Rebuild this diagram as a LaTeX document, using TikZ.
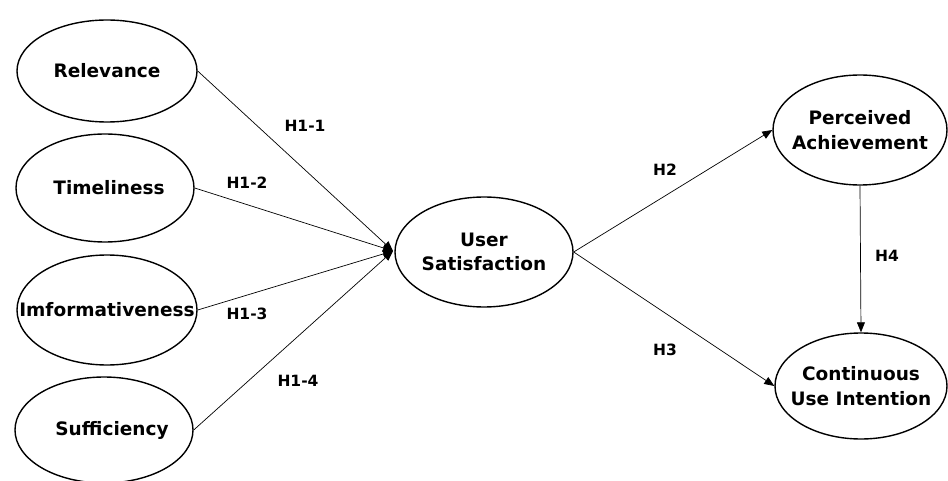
\documentclass[tikz,border=0pt]{standalone}
\usepackage{fontspec}
\setmainfont{DejaVu Sans}
\usetikzlibrary{shapes.geometric,arrows.meta}
\begin{document}
\begin{tikzpicture}[x=1pt,y=-1pt,
  var/.style={ellipse,draw,line width=1.4pt,minimum width=#1,inner sep=0pt,font=\fontsize{18.5}{24.5}\selectfont\bfseries,align=center},
  var/.default={180pt},
  conn/.style={line width=0.7pt,-{Triangle[length=10pt,width=8pt]}},
  lab/.style={font=\fontsize{15.5}{18}\selectfont\bfseries}]
\useasboundingbox (0,0) rectangle (948,481);
\node[var,minimum height=102pt] (rel) at (107,71) {\clap{Relevance}};
\node[var=178pt,minimum height=108pt] (tim) at (105,188) {\clap{\hspace{8pt}Timeliness}};
\node[var,minimum height=110pt] (imf) at (107,310) {\clap{Imformativeness}};
\node[var=178pt,minimum height=106pt] (suf) at (104,430) {\clap{\hspace{16pt}Sufficiency}};
\node[var=178pt,minimum height=110pt] (us) at (484,252) {\clap{User}\\\clap{Satisfaction}};
\node[var=174pt,minimum height=110pt] (pa) at (860,130) {\clap{Perceived}\\\clap{Achievement}};
\node[var=172pt,minimum height=106pt] (cui) at (861,386) {\clap{Continuous}\\\clap{Use Intention}};
\coordinate (tip) at (393,251);
\draw[conn] (rel.east) -- (tip);
\draw[conn] (tim.east) -- (tip);
\draw[conn] (imf.east) -- (tip);
\draw[conn] (suf.east) -- (tip);
\draw[conn] (us.east) -- (pa.west);
\draw[conn] (us.east) -- (cui.west);
\draw[conn] (pa.south) -- (cui.north);
\node[lab] (l11) at (305,126) {H1-1};
\node[lab] (l12) at (247,183) {H1-2};
\node[lab] (l13) at (247,314) {H1-3};
\node[lab] (l14) at (298,381) {H1-4};
\node[lab] (l2) at (665,170) {H2};
\node[lab] (l3) at (665,350) {H3};
\node[lab] (l4) at (887,256) {H4};
\end{tikzpicture}
\end{document}
